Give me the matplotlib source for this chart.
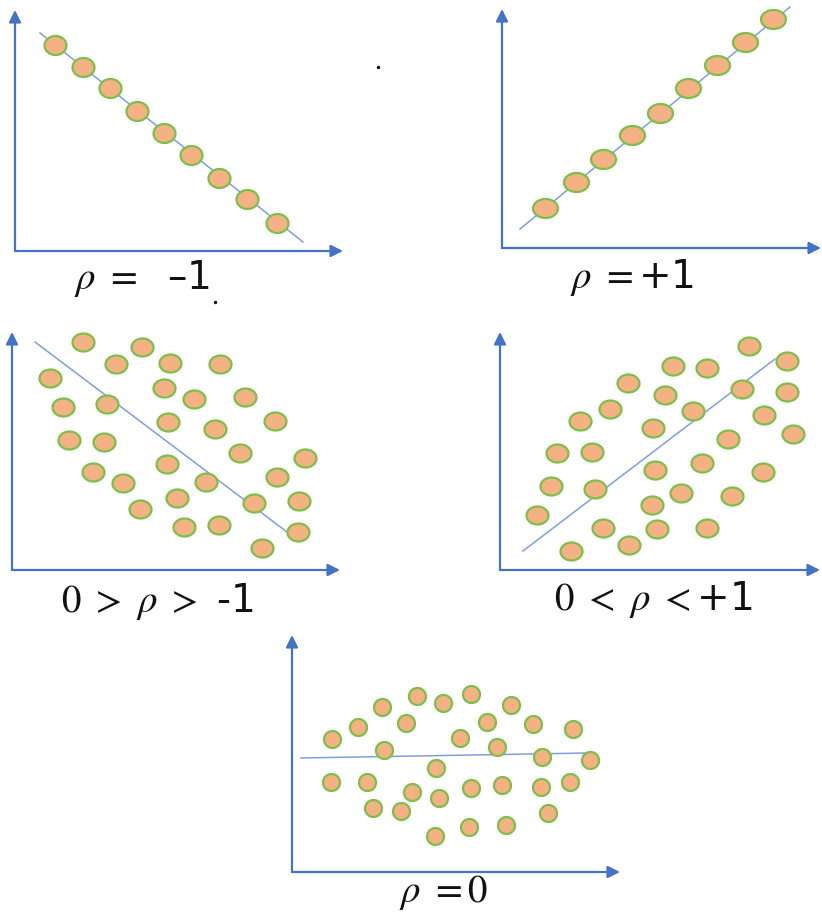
import matplotlib.pyplot as plt
import numpy as np
from matplotlib.path import Path

plt.rcParams['mathtext.fontset'] = 'stix'

# --- Données (coordonnées locales : origine = coin des axes, en pixels) ---
# rho = -1
neg1_x = [40, 68, 95, 122, 149, 176, 204, 232, 262]
neg1_y = [206, 184, 163, 140, 118, 96, 73, 52, 28]
neg1_line = ([25, 288], [218, 9])

# rho = +1
pos1_x = [43, 74, 101, 130, 158, 186, 215, 243, 271]
pos1_y = [40, 66, 89, 113, 135, 160, 183, 206, 229]
pos1_line = ([18, 288], [19, 241])

# 0 > rho > -1
negp_x = [71, 130, 104, 158, 208, 38, 152, 182, 233, 51, 95, 156, 203, 263, 57, 92,
          228, 293, 81, 155, 111, 194, 265, 165, 242, 287, 128, 172, 207, 286, 250]
negp_y = [228, 223, 206, 207, 206, 192, 182, 171, 173, 163, 166, 148, 141, 149, 130, 128,
          117, 112, 98, 106, 87, 88, 93, 72, 67, 69, 61, 43, 45, 38, 22]
negp_line = ([23, 275], [228, 38])

# 0 < rho < +1
posp_x = [249, 173, 207, 287, 128, 165, 242, 287, 110, 193, 80, 264, 153, 293, 228, 57,
          92, 155, 202, 263, 51, 95, 181, 232, 152, 37, 103, 157, 207, 71, 129]
posp_y = [224, 204, 202, 209, 187, 175, 181, 178, 161, 159, 149, 155, 142, 136, 131, 117,
          118, 100, 107, 98, 84, 81, 77, 74, 65, 55, 42, 41, 42, 19, 25]
posp_line = ([23, 275], [19, 211])

# rho = 0
zero_x = [125, 151, 179, 90, 219, 66, 114, 195, 241, 281, 40, 168, 92, 205, 250, 298,
          144, 39, 75, 120, 147, 179, 210, 249, 278, 81, 109, 256, 177, 214, 143]
zero_y = [176, 169, 178, 165, 167, 145, 149, 150, 148, 143, 133, 134, 122, 125, 115, 112,
          104, 90, 90, 80, 74, 84, 87, 85, 90, 64, 61, 59, 45, 47, 36]
zero_line = ([9, 295], [114, 119])

# origine des axes (px image), extrémités des flèches, étiquette
panels = [
    dict(o=(15, 251), tip=(328, 241), x=neg1_x, y=neg1_y, line=neg1_line, ms=(22, 19),
         label=r'$\rho\ =$  –1', lab=(127, -27)),
    dict(o=(502, 248), tip=(319, 239), x=pos1_x, y=pos1_y, line=pos1_line, ms=(25, 19),
         label=r'$\rho\ = $+1', lab=(130, -29)),
    dict(o=(12, 570), tip=(328, 238), x=negp_x, y=negp_y, line=negp_line, ms=(22, 18),
         label=r'$0\ >\ \rho\ >$ -1', lab=(145, -32)),
    dict(o=(500, 570), tip=(320, 238), x=posp_x, y=posp_y, line=posp_line, ms=(22, 18),
         label=r'$0\ <\ \rho\ <$+1', lab=(153, -30)),
    dict(o=(292, 872), tip=(328, 237), x=zero_x, y=zero_y, line=zero_line, ms=(17, 17),
         label=r'$\rho\ = 0$', lab=(151, -21)),
]

W, H = 822, 914
fig = plt.figure(figsize=(W / 100, H / 100), dpi=100)

axis_col = '#4472c4'
line_col = '#7f9fdc'
fill_col = '#f4b183'
edge_col = '#7cbf4a'

for p in panels:
    ox, oy = p['o']
    ax = fig.add_axes([0, 0, 1, 1])
    ax.set_xlim(-ox, W - ox)
    ax.set_ylim(oy - H, oy)
    ax.axis('off')
    ax.patch.set_alpha(0)

    # axes avec flèches
    tx, ty = p['tip']
    for xy in [(tx, 0), (0, ty)]:
        ax.annotate('', xy=xy, xytext=(0, 0), annotation_clip=False,
                    arrowprops=dict(arrowstyle='-|>', color=axis_col, lw=1.6,
                                    mutation_scale=18, shrinkA=0, shrinkB=0))

    # droite de tendance
    ax.plot(p['line'][0], p['line'][1], color=line_col, lw=1.1, zorder=2)

    # points (ellipses)
    w, h = p['ms']
    t = np.linspace(0, 2 * np.pi, 60)
    marker = Path(np.column_stack([np.cos(t), np.sin(t) * h / w]), closed=True)
    ax.scatter(p['x'], p['y'], s=(w * 0.72) ** 2, marker=marker,
               facecolor=fill_col, edgecolor=edge_col, linewidths=1.6, zorder=3)

    ax.text(p['lab'][0], p['lab'][1], p['label'], fontsize=28, ha='center',
            va='center', color='#111111')

# petites taches parasites
ax0 = fig.axes[0]
ax0.scatter([363, 200], [184, -51], s=2, color='black', clip_on=False)

fig.savefig('out.png', dpi=100)
